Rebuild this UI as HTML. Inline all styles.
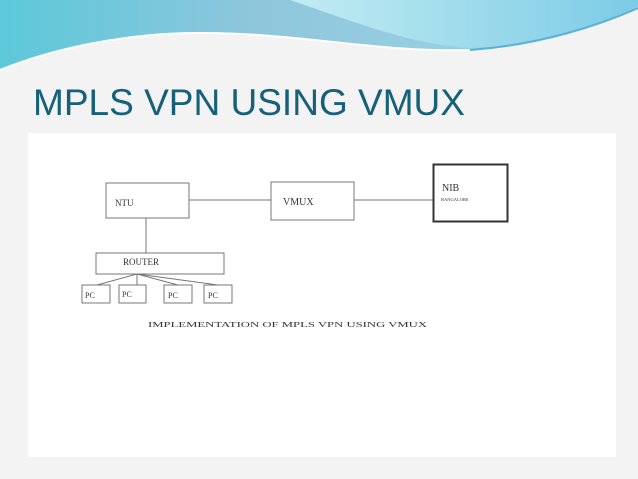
<!DOCTYPE html>
<html><head><style>
body{margin:0;width:638px;height:479px;overflow:hidden;background:#f2f2f2;font-family:"Liberation Serif",serif;}
</style></head><body>
<svg width="638" height="479" viewBox="0 0 638 479" xmlns="http://www.w3.org/2000/svg" style="position:absolute;left:0;top:0">
<defs>
<linearGradient id="g1" x1="0" y1="0" x2="1" y2="0">
<stop offset="0" stop-color="#5cc8da"/><stop offset="0.4" stop-color="#8fc6dc"/><stop offset="1" stop-color="#9ed6e8"/>
</linearGradient>
<linearGradient id="g2" x1="0" y1="0" x2="1" y2="0">
<stop offset="0" stop-color="#c2ecf2"/><stop offset="1" stop-color="#7ccbe6"/>
</linearGradient>
</defs>
<rect width="638" height="479" fill="#f3f3f3"/>
<path d="M0 0 H638 V8 C600 25 540 45 470 50 C380 52 300 32 200 32 C120 32 50 50 0 70 Z" fill="url(#g1)"/>
<path d="M290 0 H638 V6 C590 30 530 45 470 48 C410 45 350 20 290 0 Z" fill="url(#g2)"/>
<path d="M0 70 C50 50 120 33 200 33 C300 33 380 53 470 50" stroke="#ffffff" stroke-width="2" fill="none"/>
<path d="M470 50 C540 45 600 25 638 8" stroke="#5ab0d8" stroke-width="2" fill="none"/>
<text x="33" y="115" font-family="Liberation Sans, sans-serif" font-size="37" fill="#17607a" textLength="432" lengthAdjust="spacingAndGlyphs">MPLS VPN USING VMUX</text>
<rect x="28" y="133" width="588" height="324" fill="#ffffff"/>
<g stroke="#777" stroke-width="1" fill="#fff">
<rect x="106" y="183" width="83" height="35"/>
<rect x="271" y="182" width="83" height="38"/>
<rect x="96" y="253" width="128" height="21"/>
<rect x="82" y="285" width="28" height="18"/>
<rect x="119" y="285" width="27" height="18"/>
<rect x="164" y="285" width="28" height="18"/>
<rect x="204" y="285" width="28" height="18"/>
<line x1="189" y1="200" x2="271" y2="200"/>
<line x1="354" y1="200" x2="433" y2="200"/>
<line x1="146" y1="218" x2="146" y2="253"/>
<line x1="137" y1="274" x2="97" y2="285"/>
<line x1="137" y1="274" x2="137" y2="285"/>
<line x1="137" y1="274" x2="178" y2="285"/>
<line x1="137" y1="274" x2="218" y2="285"/>
</g>
<rect x="433.5" y="164.5" width="74" height="57" fill="#fff" stroke="#333" stroke-width="2"/>
<g fill="#333" font-family="Liberation Serif, serif">
<text x="115" y="206" font-size="9">NTU</text>
<text x="283" y="205" font-size="10">VMUX</text>
<text x="442" y="191" font-size="10">NIB</text>
<text x="441" y="201" font-size="4.5">BANGALORE</text>
<text x="123" y="265" font-size="9">ROUTER</text>
<text x="85" y="298" font-size="8">PC</text>
<text x="122" y="297" font-size="8">PC</text>
<text x="168" y="298" font-size="8">PC</text>
<text x="208" y="298" font-size="8">PC</text>
<text x="148" y="327" font-size="7.5" textLength="279" lengthAdjust="spacingAndGlyphs">IMPLEMENTATION OF MPLS VPN USING VMUX</text>
</g>
</svg>
</body></html>
